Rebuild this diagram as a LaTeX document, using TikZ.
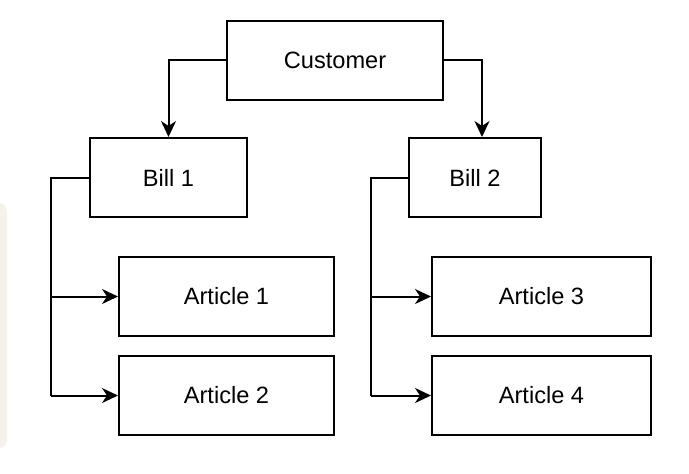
\documentclass[tikz,border=0pt]{standalone}
\usepackage{fontspec}
\setmainfont{Liberation Sans}
\usetikzlibrary{arrows.meta}
\definecolor{panelbg}{HTML}{F5F2EC}
\tikzset{
  entity/.style={draw,line width=1pt,minimum height=39.5pt,inner sep=0pt,
    font=\fontsize{11.8}{14}\selectfont},
  link/.style={line width=1pt,-{Stealth[length=8pt,width=7.5pt,inset=2.5pt]}},
}
\begin{document}
\begin{tikzpicture}[x=0.5pt,y=-0.5pt,line cap=butt,line join=miter]
	\useasboundingbox (0,0) rectangle (689,473);
	\clip (0,0) rectangle (689,473);
	% side panel
	\fill[panelbg,rounded corners=4pt] (-20,203) rectangle (7,448);
	% boxes
	\node[entity,minimum width=108pt] (cust) at (335,60) {Customer};
	\node[entity,minimum width=78.5pt] (bill1) at (168.5,177.5) {Bill 1};
	\node[entity,minimum width=66pt] (bill2) at (475,177.5) {Bill 2};
	\node[entity,minimum width=107.5pt] (art1) at (226.5,296.5) {Article 1};
	\node[entity,minimum width=107.5pt] (art2) at (226.5,395.5) {Article 2};
	\node[entity,minimum width=109.5pt] (art3) at (541.5,296.5) {Article 3};
	\node[entity,minimum width=109.5pt] (art4) at (541.5,395.5) {Article 4};
	% customer to bills
	\draw[link] (cust.west) -| (bill1.north);
	\draw[link] (cust.east) -| ([xshift=3.5pt]bill2.north);
	% bills to articles
	\coordinate (b1) at (51,177.5);
	\coordinate (b2) at (371,177.5);
	\draw[line width=1pt] (bill1.west) -- (b1) -- (b1 |- art2.west);
	\draw[link] (b1 |- art1.west) -- (art1.west);
	\draw[link] (b1 |- art2.west) -- (art2.west);
	\draw[line width=1pt] (bill2.west) -- (b2) -- (b2 |- art4.west);
	\draw[link] (b2 |- art3.west) -- (art3.west);
	\draw[link] (b2 |- art4.west) -- (art4.west);
\end{tikzpicture}
\end{document}
